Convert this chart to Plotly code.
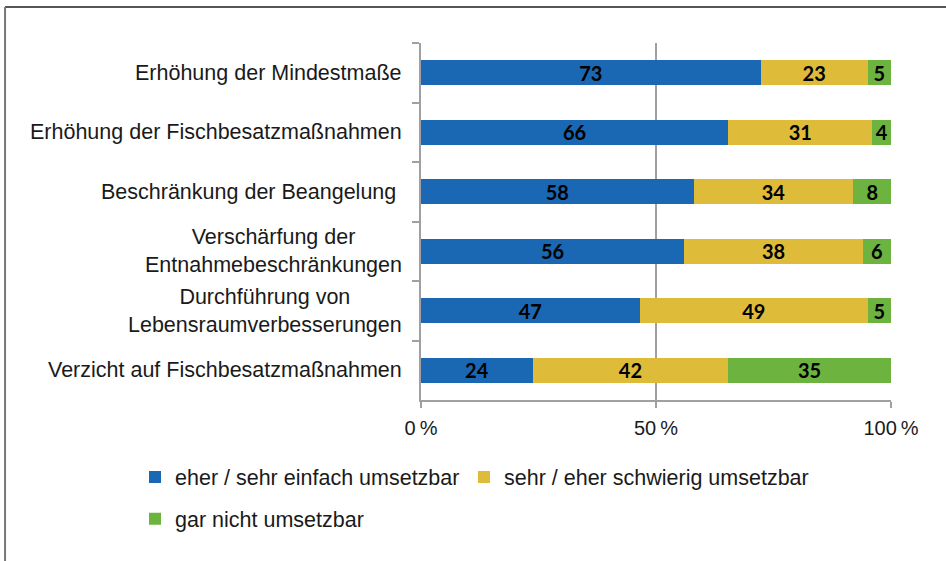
import plotly.graph_objects as go

categories = [
    "Erhöhung der Mindestmaße",
    "Erhöhung der Fischbesatzmaßnahmen",
    "Beschränkung der Beangelung ",
    "Verschärfung der<br>Entnahmebeschränkungen",
    "Durchführung von<br>Lebensraumverbesserungen",
    "Verzicht auf Fischbesatzmaßnahmen",
]
einfach = [73, 66, 58, 56, 47, 24]
schwierig = [23, 31, 34, 38, 49, 42]
gar_nicht = [5, 4, 8, 6, 5, 35]

series_names = [
    "eher / sehr einfach umsetzbar",
    "sehr / eher schwierig umsetzbar",
    "gar nicht umsetzbar",
]
colors = ["#1a67b3", "#dfbb3a", "#6cb33f"]
legend_ids = ["legend", "legend2", "legend3"]

LABEL_FONT = dict(family="Liberation Sans", size=21.5, color="#1a1a1a")

fig = go.Figure()
for name, vals, col, lg in zip(series_names, [einfach, schwierig, gar_nicht], colors, legend_ids):
    fig.add_trace(go.Bar(
        y=categories, x=vals, name=name, orientation="h",
        marker=dict(color=col, line=dict(width=0)),
        text=[str(v) for v in vals], textposition="inside",
        insidetextanchor="middle", textangle=0, constraintext="none",
        textfont=dict(family="Lato", size=20, color="black", weight="bold"),
        width=0.42, legend=lg,
    ))

annotations = []
for c in categories:
    annotations.append(dict(
        x=0, xref="paper", y=c, yref="y", xanchor="right", xshift=-17,
        text=c, showarrow=False, align="center",
        font=LABEL_FONT,
    ))

legend_common = dict(
    orientation="h", xanchor="left", yanchor="middle",
    font=LABEL_FONT, itemwidth=30, bgcolor="rgba(0,0,0,0)",
)

fig.update_layout(
    barmode="stack", barnorm="percent",
    width=946, height=561,
    margin=dict(l=421, r=55, t=43, b=161),
    plot_bgcolor="white", paper_bgcolor="white",
    showlegend=True,
    legend=dict(x=-0.6085, y=-0.2157, **legend_common),
    legend2=dict(x=0.0915, y=-0.2157, **legend_common),
    legend3=dict(x=-0.6085, y=-0.333, **legend_common),
    annotations=annotations,
    shapes=[
        dict(type="line", xref="paper", yref="paper", x0=-0.885, x1=1.2, y0=1.1008, y1=1.1008,
             line=dict(color="#555555", width=2)),
        dict(type="line", xref="paper", yref="paper", x0=-0.885, x1=-0.885, y0=1.1008, y1=-0.6,
             line=dict(color="#777777", width=2)),
    ],
)
fig.update_xaxes(
    range=[0, 100], tickvals=[0, 50, 100], ticktext=["0\u2009%", "50\u2009%", "100\u2009%"],
    showgrid=True, gridcolor="#a0a0a4", gridwidth=2,
    showline=True, linecolor="#a0a0a4", linewidth=2,
    ticks="outside", ticklen=6, tickcolor="#a0a0a4", tickwidth=2,
    ticklabelstandoff=3,
    tickfont=dict(family="Liberation Sans", size=20, color="#1a1a1a"),
    zeroline=False, fixedrange=True,
)
fig.update_yaxes(
    autorange="reversed", showticklabels=False,
    showline=True, linecolor="#a0a0a4", linewidth=2,
    ticks="outside", tickson="boundaries", ticklen=7, tickcolor="#a0a0a4", tickwidth=2,
    showgrid=False, fixedrange=True,
)
fig.write_html(
    "out.html",
    config={"displayModeBar": False},
    post_script="document.body.style.margin='0';document.body.style.overflow='hidden';",
)
